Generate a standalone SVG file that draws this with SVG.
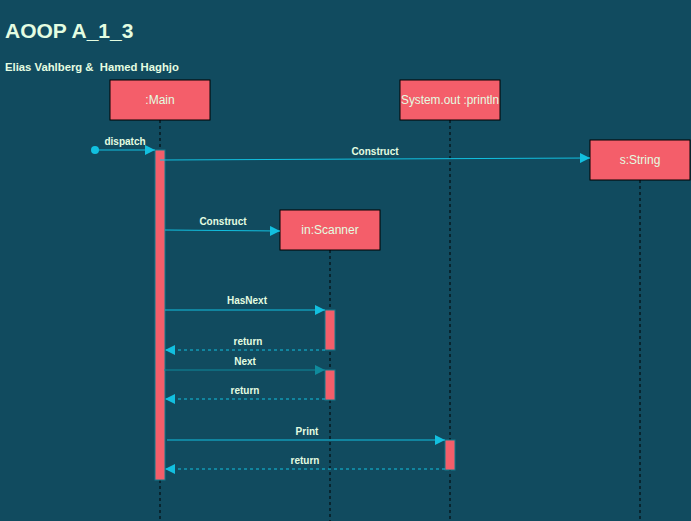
<svg xmlns="http://www.w3.org/2000/svg" width="691" height="521" viewBox="0 0 691 521">
<defs>
<style>
.box{fill:#F45E6A;stroke:#000;stroke-width:1}
.act{fill:#F45E6A;stroke:#147A8C;stroke-width:1}
.life{stroke:#000;stroke-width:1;stroke-dasharray:3 3}
.lbl{font-family:"Liberation Sans",Arial,sans-serif;font-size:12px;fill:#E4FDE1;text-anchor:middle}
.ml{font-family:"Liberation Sans",Arial,sans-serif;font-size:10px;font-weight:bold;fill:#E4FDE1;text-anchor:middle}
.msg{stroke:#12C0E0;stroke-width:1;fill:none}
.msg2{stroke:#0F8A9C;stroke-width:1;fill:none}
.ret{stroke:#12C0E0;stroke-width:1;fill:none;stroke-dasharray:3 3}
</style>
<marker id="ah" viewBox="0 0 10 10" refX="10" refY="5" markerWidth="10" markerHeight="10" markerUnits="userSpaceOnUse" orient="auto"><path d="M0,0 L10,5 L0,10 z" fill="#12C0E0"/></marker>
<marker id="ah2" viewBox="0 0 10 10" refX="10" refY="5" markerWidth="10" markerHeight="10" markerUnits="userSpaceOnUse" orient="auto"><path d="M0,0 L10,5 L0,10 z" fill="#0F8A9C"/></marker>
</defs>
<rect x="0" y="0" width="691" height="521" fill="#114B5F"/>
<text x="5" y="38" font-family="Liberation Sans,Arial,sans-serif" font-size="21" font-weight="bold" fill="#E4FDE1">AOOP A_1_3</text>
<text x="5" y="71" font-family="Liberation Sans,Arial,sans-serif" font-size="11.3" font-weight="bold" fill="#E4FDE1" xml:space="preserve">Elias Vahlberg &amp;  Hamed Haghjo</text>

<g id="main">
<line class="life" x1="160" y1="120" x2="160" y2="521"/>
<rect class="box" x="110" y="80" width="100" height="40"/>
<text class="lbl" x="160" y="104">:Main</text>
<rect class="act" x="155" y="150" width="10" height="330"/>
</g>
<g id="sysout">
<line class="life" x1="450" y1="120" x2="450" y2="521"/>
<rect class="box" x="400" y="80" width="100" height="40"/>
<text class="lbl" x="450" y="104" textLength="98" lengthAdjust="spacingAndGlyphs">System.out :println</text>
<rect class="act" x="445" y="440" width="10" height="30"/>
</g>
<g id="string">
<line class="life" x1="640" y1="180" x2="640" y2="521"/>
<rect class="box" x="590" y="140" width="100" height="40"/>
<text class="lbl" x="640" y="164">s:String</text>
</g>
<g id="scanner">
<line class="life" x1="330" y1="250" x2="330" y2="521"/>
<rect class="box" x="280" y="210" width="100" height="40"/>
<text class="lbl" x="330" y="234">in:Scanner</text>
<rect class="act" x="325" y="310" width="10" height="40"/>
<rect class="act" x="325" y="370" width="10" height="30"/>
</g>

<g id="connectors">
<circle cx="95" cy="150" r="4" fill="#12C0E0"/>
<line class="msg" x1="95" y1="150" x2="155" y2="150" marker-end="url(#ah)"/>
<text class="ml" x="125" y="145">dispatch</text>
<line class="msg" x1="160" y1="160" x2="590" y2="158" marker-end="url(#ah)"/>
<text class="ml" x="375" y="155">Construct</text>
<line class="msg" x1="165" y1="230" x2="280" y2="231" marker-end="url(#ah)"/>
<text class="ml" x="223" y="225">Construct</text>
<line class="msg" x1="165" y1="310" x2="325" y2="310" marker-end="url(#ah)"/>
<text class="ml" x="247" y="304">HasNext</text>
<line class="ret" x1="325" y1="350" x2="165" y2="350" marker-end="url(#ah)"/>
<text class="ml" x="248" y="345">return</text>
<line class="msg2" x1="164" y1="370" x2="325" y2="370" marker-end="url(#ah2)"/>
<text class="ml" x="245" y="365">Next</text>
<line class="ret" x1="325" y1="399" x2="165" y2="399" marker-end="url(#ah)"/>
<text class="ml" x="245" y="394">return</text>
<line class="msg" x1="167" y1="440" x2="445" y2="440" marker-end="url(#ah)"/>
<text class="ml" x="307" y="435">Print</text>
<line class="ret" x1="445" y1="469" x2="165" y2="469" marker-end="url(#ah)"/>
<text class="ml" x="305" y="464">return</text>
</g>
</svg>
